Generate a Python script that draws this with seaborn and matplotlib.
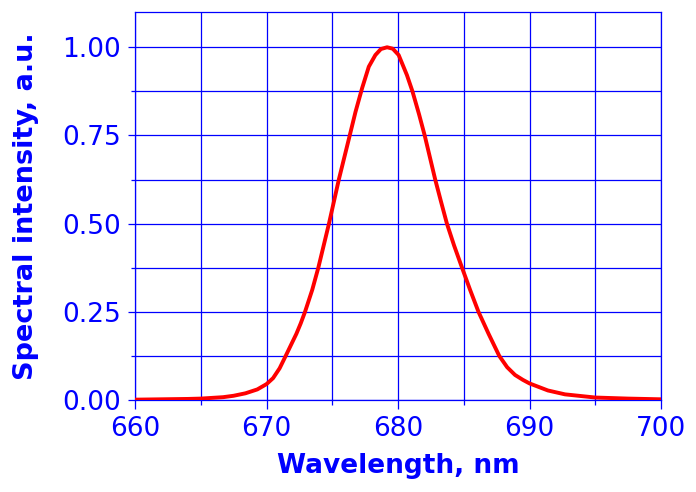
import matplotlib
matplotlib.use("Agg")
import matplotlib.pyplot as plt
import pandas as pd
import seaborn as sns
from matplotlib.ticker import MultipleLocator, FormatStrFormatter

# spectrum
wavelength = [660, 662, 664, 665, 666.7, 667.5, 668.4, 669.3, 670, 670.5,
              671.0, 671.46, 671.9, 672.27, 672.6, 672.93, 673.48, 673.94,
              674.75, 675.5, 676.21, 676.77, 677.27, 677.78, 678.28, 678.7,
              679.17, 679.6, 680.05, 680.68, 681.1, 681.6, 682.03, 682.83,
              683.27, 683.72, 684.27, 684.87, 685.48, 686.12, 686.89, 687.7,
              688.3, 688.9, 689.5, 690.0, 691.4, 692.7, 695.0, 697.5, 700]
intensity = [0.001, 0.002, 0.003, 0.004, 0.008, 0.012, 0.019, 0.03, 0.045, 0.062,
             0.09, 0.125, 0.159, 0.1875, 0.217, 0.25, 0.3125, 0.375,
             0.5, 0.625, 0.732, 0.817, 0.884, 0.945, 0.978, 0.995,
             1.0, 0.996, 0.978, 0.921, 0.875, 0.81, 0.75, 0.625,
             0.5625, 0.5, 0.4375, 0.375, 0.3125, 0.25, 0.1875, 0.125,
             0.093, 0.071, 0.057, 0.047, 0.027, 0.016, 0.007, 0.004, 0.002]

BLUE = "#0000ff"

sns.set_style("white")
plt.rcParams["font.family"] = ["DejaVu Sans"]

df = pd.DataFrame({"wl": wavelength, "I": intensity})

fig = plt.figure(figsize=(6.96, 4.92), dpi=100)
ax = fig.add_axes([135 / 696, 1 - 400 / 492, 526 / 696, 388 / 492])
sns.lineplot(data=df, x="wl", y="I", ax=ax, color="#ff0000", linewidth=2.8,
             zorder=3)

ax.set_xlim(660, 700)
ax.set_ylim(0, 1.1)
ax.xaxis.set_major_locator(MultipleLocator(10))
ax.xaxis.set_minor_locator(MultipleLocator(5))
ax.yaxis.set_major_locator(MultipleLocator(0.25))
ax.yaxis.set_minor_locator(MultipleLocator(0.125))
ax.yaxis.set_major_formatter(FormatStrFormatter("%.2f"))

ax.grid(True, which="both", color=BLUE, linewidth=0.9)
for s in ax.spines.values():
    s.set_color(BLUE)
    s.set_linewidth(0.9)

ax.tick_params(which="both", color=BLUE, labelcolor=BLUE, width=0.9,
               direction="out", bottom=True, left=True)
ax.tick_params(axis="x", which="major", length=6.5, labelsize=19, pad=5)
ax.tick_params(axis="x", which="minor", length=3.5)
ax.tick_params(axis="y", which="major", length=5, labelsize=19, pad=5)
ax.tick_params(axis="y", which="minor", length=3)

ax.set_xlabel("Wavelength, nm", color=BLUE, fontsize=19, fontweight="bold",
              labelpad=8)
ax.set_ylabel("Spectral intensity, a.u.", color=BLUE, fontsize=19.5,
              fontweight="bold", labelpad=17)

fig.savefig("out.png", dpi=100)
